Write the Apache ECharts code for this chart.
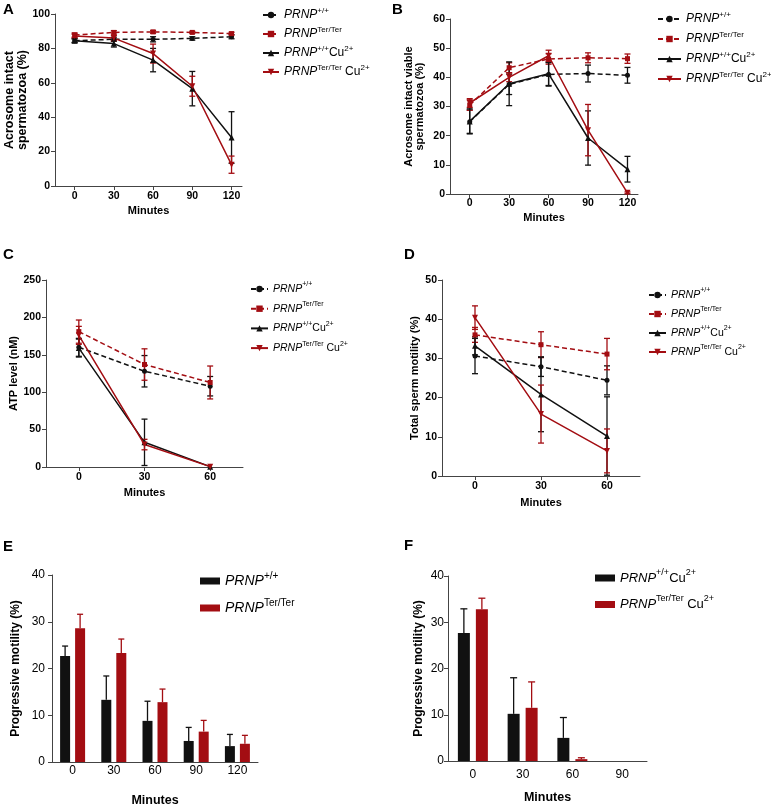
<!DOCTYPE html>
<html><head><meta charset="utf-8">
<script src="https://cdn.jsdelivr.net/npm/echarts@6/dist/echarts.min.js"></script>
<style>html,body{margin:0;padding:0;background:#fff}#c{width:771px;height:809px}</style>
</head><body><div id="c"></div>
<script>
// ---------- data ----------
const minutesLong = [0, 30, 60, 90, 120];
const minutesShort = [0, 30, 60];
const minutesE = ['0', '30', '60', '90', '120'];
const minutesF = ['0', '30', '60', '90'];

// A: acrosome intact spermatozoa (%)
const acroWt = [84.5, 85.3, 85.3, 85.8, 86.8];
const acroWtErr = [1.0, 1.2, 1.5, 1.0, 1.2];
const acroTer = [87.8, 89.3, 89.6, 89.3, 88.6];
const acroTerErr = [1.2, 1.0, 0.8, 0.6, 0.8];
const acroWtCu = [84.5, 82.8, 73.2, 56.6, 28.2];
const acroWtCuErr = [1.2, 2.0, 6.8, 10.0, 15.0];
const acroTerCu = [87.2, 86.0, 77.0, 58.0, 12.4];
const acroTerCuErr = [1.0, 1.5, 5.5, 5.8, 5.0];

// B: acrosome intact viable spermatozoa (%)
const viaWt = [24.8, 37.6, 41.0, 41.3, 40.7];
const viaWtErr = [4.0, 3.5, 4.0, 2.9, 2.7];
const viaTer = [30.5, 43.3, 46.3, 46.7, 46.4];
const viaTerErr = [1.8, 1.7, 1.8, 1.7, 1.6];
const viaWtCu = [24.9, 37.8, 41.2, 19.2, 8.5];
const viaWtCuErr = [4.3, 7.5, 4.0, 9.3, 4.4];
const viaTerCu = [31.2, 40.0, 47.4, 21.9, 0.4];
const viaTerCuErr = [1.5, 1.5, 1.9, 8.8, 0.3];

// C: ATP level (nM)
const atpWt = [160, 128, 108];
const atpWtErr = [12, 21, 13];
const atpTer = [181, 137, 113];
const atpTerErr = [15.5, 21, 22];
const atpWtCu = [159, 33, 0.5];
const atpWtCuErr = [12, 31, 0];
const atpTerCu = [176, 30, 0.5];
const atpTerCuErr = [12, 7, 0];

// D: total sperm motility (%)
const motWt = [30.6, 27.9, 24.4];
const motWtErr = [4.5, 2.5, 3.7];
const motTer = [36.0, 33.5, 31.1];
const motTerErr = [1.9, 3.3, 4.0];
const motWtCu = [33.2, 20.8, 10.2];
const motWtCuErr = [2.3, 9.5, 10.0];
const motTerCu = [40.4, 15.8, 6.4];
const motTerCuErr = [3.0, 7.4, 5.6];

// E: progressive motility (%)
const progWt = [22.7, 13.3, 8.8, 4.5, 3.4];
const progWtErr = [2.1, 5.1, 4.2, 2.9, 2.5];
const progTer = [28.6, 23.3, 12.8, 6.5, 3.9];
const progTerErr = [3.0, 3.0, 2.8, 2.4, 1.8];

// F: progressive motility with Cu2+ (%)
const progWtCu = [27.7, 10.2, 5.0, 0];
const progWtCuErr = [5.2, 7.8, 4.4, 0];
const progTerCu = [32.8, 11.5, 0.4, 0];
const progTerCuErr = [2.4, 5.6, 0.3, 0];

// ---------- styling ----------
const FONT = '"Liberation Sans", Arial, sans-serif';
const BLACK = '#111111';
const RED = '#a30d12';
const AX = '#444444';

const legendText = {
  wt: '{it|PRNP}{sup|+/+}',
  ter: '{it|PRNP}{sup|Ter/Ter}',
  wtcu: '{it|PRNP}{sup|+/+}{n|Cu}{sup|2+}',
  tercu: '{it|PRNP}{sup|Ter/Ter}{n| Cu}{sup|2+}'
};
function rich(fs, lh) {
  return {
    it: {fontStyle: 'italic', fontSize: fs, fontFamily: FONT, color: '#000', lineHeight: lh},
    n: {fontSize: fs, fontFamily: FONT, color: '#000', lineHeight: lh},
    sup: {fontSize: Math.round(fs * 0.68), fontFamily: FONT, color: '#000', verticalAlign: 'top', lineHeight: Math.round(lh * 0.55)}
  };
}

const grids = [
  {left: 55, top: 14, width: 187, height: 172},
  {left: 450, top: 19, width: 188, height: 175},
  {left: 46, top: 280, width: 197, height: 187},
  {left: 442, top: 280, width: 198, height: 196},
  {left: 52, top: 575, width: 206, height: 187},
  {left: 448, top: 576, width: 199, height: 185}
];

function lineX(gi, ticks, max, nameGap, margin) {
  return {
    gridIndex: gi, type: 'value', min: -15, max: max,
    axisLine: {show: true, onZero: false, lineStyle: {color: AX, width: 1}},
    axisTick: {show: true, customValues: ticks, length: 4, lineStyle: {color: AX}},
    axisLabel: {customValues: ticks, fontSize: 10.5, fontWeight: 'bold', color: '#000', fontFamily: FONT, margin: margin},
    splitLine: {show: false},
    name: 'Minutes', nameLocation: 'middle', nameGap: nameGap,
    nameTextStyle: {fontSize: 11, fontWeight: 'bold', color: '#000', fontFamily: FONT}
  };
}
function valY(gi, max, interval, name, fs, lh, nameGap, labelFs, labelBold, margin) {
  return {
    gridIndex: gi, type: 'value', min: 0, max: max, interval: interval,
    axisLine: {show: true, onZero: false, lineStyle: {color: AX, width: 1}},
    axisTick: {show: true, length: 4, lineStyle: {color: AX}},
    axisLabel: {fontSize: labelFs, fontWeight: labelBold ? 'bold' : 'normal', color: '#000', fontFamily: FONT, margin: margin},
    splitLine: {show: false},
    name: name, nameLocation: 'middle', nameRotate: 90, nameGap: nameGap,
    nameTextStyle: {fontSize: fs, lineHeight: lh, fontWeight: 'bold', color: '#000', fontFamily: FONT}
  };
}
function catX(gi, cats, nameGap, margin) {
  return {
    gridIndex: gi, type: 'category', data: cats,
    axisLine: {show: true, onZero: false, lineStyle: {color: AX, width: 1}},
    axisTick: {show: false},
    axisLabel: {fontSize: 12, color: '#000', fontFamily: FONT, margin: margin},
    name: 'Minutes', nameLocation: 'middle', nameGap: nameGap,
    nameTextStyle: {fontSize: 12.5, fontWeight: 'bold', color: '#000', fontFamily: FONT}
  };
}

const SYM = {
  wt: {symbol: 'circle', size: 5, rot: 0, color: BLACK, dashed: true},
  ter: {symbol: 'rect', size: 5, rot: 0, color: RED, dashed: true},
  wtcu: {symbol: 'triangle', size: 6, rot: 0, color: BLACK, dashed: false},
  tercu: {symbol: 'triangle', size: 6, rot: 180, color: RED, dashed: false}
};
function lineSeries(panel, key, gi, xs, ys) {
  const s = SYM[key];
  return {
    type: 'line', name: panel + '-' + key, xAxisIndex: gi, yAxisIndex: gi,
    data: xs.map((x, i) => [x, ys[i]]),
    symbol: s.symbol, symbolSize: s.size, symbolRotate: s.rot, showSymbol: true,
    lineStyle: {color: s.color, width: 1.5, type: s.dashed ? [5, 3] : 'solid'},
    itemStyle: {color: s.color}, z: 3, animation: false
  };
}
function errSeries(gi, xs, ys, es, color, capW, offset, upOnly) {
  return {
    type: 'custom', xAxisIndex: gi, yAxisIndex: gi, silent: true, animation: false, z: 2,
    data: xs.map((x, i) => [x, ys[i], es[i]]),
    renderItem: function (params, api) {
      const x = api.value(0), y = api.value(1), e = api.value(2);
      if (!(e > 0)) return null;
      const hi = api.coord([x, y + e]);
      const lo = api.coord([x, upOnly ? y : Math.max(0, y - e)]);
      const cx = hi[0] + offset;
      const st = {stroke: color, lineWidth: 1.3};
      const ch = [
        {type: 'line', shape: {x1: cx, y1: hi[1], x2: cx, y2: lo[1]}, style: st},
        {type: 'line', shape: {x1: cx - capW / 2, y1: hi[1], x2: cx + capW / 2, y2: hi[1]}, style: st}
      ];
      if (!upOnly) ch.push({type: 'line', shape: {x1: cx - capW / 2, y1: lo[1], x2: cx + capW / 2, y2: lo[1]}, style: st});
      return {type: 'group', children: ch};
    }
  };
}
function linePanel(panel, gi, xs, sets) {
  const out = [];
  ['wt', 'ter', 'wtcu', 'tercu'].forEach(k => {
    out.push(errSeries(gi, xs, sets[k][0], sets[k][1], SYM[k].color, 6, 0, false));
  });
  ['wt', 'ter', 'wtcu', 'tercu'].forEach(k => {
    out.push(lineSeries(panel, k, gi, xs, sets[k][0]));
  });
  return out;
}
function lineLegend(panel, left, top, fs, gap, iw) {
  return {
    left: left, top: top, orient: 'vertical', itemGap: gap, itemWidth: iw, itemHeight: 8, padding: 0,
    data: ['wt', 'ter', 'wtcu', 'tercu'].map(k => panel + '-' + k),
    formatter: n => legendText[n.split('-')[1]],
    textStyle: {rich: rich(fs, 16)}, selectedMode: true
  };
}
function barLegend(panel, keys, left, top, fs, gap) {
  return {
    left: left, top: top, orient: 'vertical', itemGap: gap, itemWidth: 20, itemHeight: 7, padding: 0,
    icon: 'rect',
    data: keys.map(k => panel + '-' + k),
    formatter: n => legendText[n.split('-')[1]],
    textStyle: {rich: rich(fs, 20)}
  };
}

const series = [].concat(
  linePanel('A', 0, minutesLong, {
    wt: [acroWt, acroWtErr], ter: [acroTer, acroTerErr], wtcu: [acroWtCu, acroWtCuErr], tercu: [acroTerCu, acroTerCuErr]
  }),
  linePanel('B', 1, minutesLong, {
    wt: [viaWt, viaWtErr], ter: [viaTer, viaTerErr], wtcu: [viaWtCu, viaWtCuErr], tercu: [viaTerCu, viaTerCuErr]
  }),
  linePanel('C', 2, minutesShort, {
    wt: [atpWt, atpWtErr], ter: [atpTer, atpTerErr], wtcu: [atpWtCu, atpWtCuErr], tercu: [atpTerCu, atpTerCuErr]
  }),
  linePanel('D', 3, minutesShort, {
    wt: [motWt, motWtErr], ter: [motTer, motTerErr], wtcu: [motWtCu, motWtCuErr], tercu: [motTerCu, motTerCuErr]
  }),
  [
    {type: 'bar', name: 'E-wt', xAxisIndex: 4, yAxisIndex: 4, data: progWt, barWidth: 10, barGap: '50%', itemStyle: {color: BLACK}, animation: false},
    {type: 'bar', name: 'E-ter', xAxisIndex: 4, yAxisIndex: 4, data: progTer, barWidth: 10, barGap: '50%', itemStyle: {color: RED}, animation: false},
    errSeries(4, minutesE, progWt, progWtErr, BLACK, 6, -7.5, true),
    errSeries(4, minutesE, progTer, progTerErr, RED, 6, 7.5, true),
    {type: 'bar', name: 'F-wtcu', xAxisIndex: 5, yAxisIndex: 5, data: progWtCu, barWidth: 12, barGap: '50%', itemStyle: {color: BLACK}, animation: false},
    {type: 'bar', name: 'F-tercu', xAxisIndex: 5, yAxisIndex: 5, data: progTerCu, barWidth: 12, barGap: '50%', itemStyle: {color: RED}, animation: false},
    errSeries(5, minutesF, progWtCu, progWtCuErr, BLACK, 7, -9, true),
    errSeries(5, minutesF, progTerCu, progTerCuErr, RED, 7, 9, true)
  ]
);

const letterStyle = {fontSize: 15, fontWeight: 'bold', color: '#000', fontFamily: FONT};
const option = {
  backgroundColor: '#fff',
  animation: false,
  title: [
    {text: 'A', left: 3, top: 2, padding: 0, textStyle: letterStyle},
    {text: 'B', left: 392, top: 2, padding: 0, textStyle: letterStyle},
    {text: 'C', left: 3, top: 247, padding: 0, textStyle: letterStyle},
    {text: 'D', left: 404, top: 247, padding: 0, textStyle: letterStyle},
    {text: 'E', left: 3, top: 539, padding: 0, textStyle: letterStyle},
    {text: 'F', left: 404, top: 538, padding: 0, textStyle: letterStyle}
  ],
  grid: grids,
  xAxis: [
    lineX(0, minutesLong, 128, 19, 5),
    lineX(1, minutesLong, 128, 18, 4),
    lineX(2, minutesShort, 75, 20, 5),
    lineX(3, minutesShort, 75, 21, 5),
    catX(4, minutesE, 32, 3),
    catX(5, minutesF, 30, 8)
  ],
  yAxis: [
    valY(0, 100, 20, 'Acrosome intact\nspermatozoa (%)', 12.5, 13, 23, 10.5, true, 5),
    valY(1, 60, 10, 'Acrosome intact viable\nspermatozoa (%)', 11, 11, 25, 10.5, true, 5),
    valY(2, 250, 50, 'ATP level (nM)', 11, 12, 26, 10.5, true, 5),
    valY(3, 50, 10, 'Total sperm motility (%)', 11, 12, 19, 10.5, true, 5),
    valY(4, 40, 10, 'Progressive motility (%)', 12, 13, 30, 12, false, 7),
    valY(5, 40, 10, 'Progressive motility (%)', 12, 13, 23, 12, false, 4)
  ],
  legend: [
    lineLegend('A', 262, 7, 12, 5, 16),
    lineLegend('B', 657, 11, 12, 6, 23),
    lineLegend('C', 250, 281, 10.5, 6.2, 17),
    lineLegend('D', 648, 287, 10.5, 5.5, 17),
    barLegend('E', ['wt', 'ter'], 200, 571, 14, 10),
    barLegend('F', ['wtcu', 'tercu'], 595, 568, 13, 10)
  ],
  series: series
};

const chart = echarts.init(document.getElementById('c'), null, {renderer: 'canvas'});
chart.setOption(option);
</script>
</body></html>
